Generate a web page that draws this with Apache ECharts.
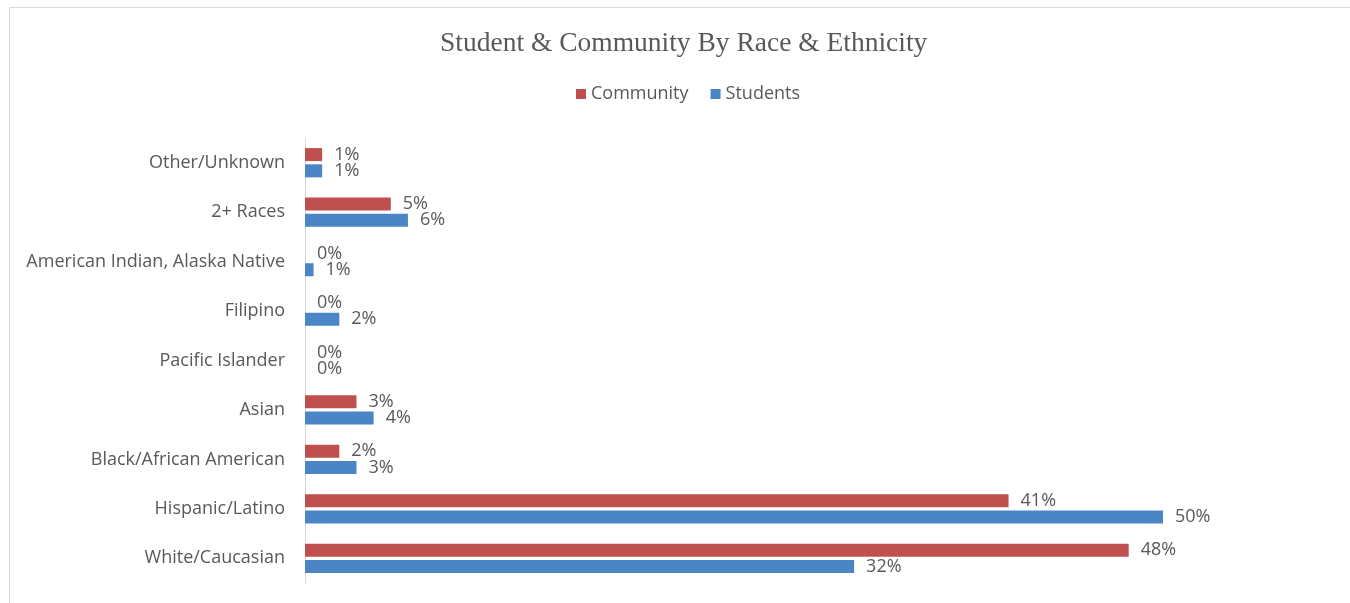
<!DOCTYPE html>
<html>
<head>
<meta charset="utf-8">
<script src="https://cdn.jsdelivr.net/npm/echarts@6/dist/echarts.min.js"></script>
<style>
  html, body { margin: 0; padding: 0; background: #fff; }
  #chart { width: 1350px; height: 603px; }
  .frame { position: absolute; left: 9px; top: 7px; right: 0; bottom: 0; border-top: 1px solid #d9d9d9; border-left: 1px solid #d9d9d9; pointer-events: none; }
</style>
</head>
<body>
<div id="chart"></div>
<div class="frame"></div>
<script>
// categories bottom to top
const categories = ['White/Caucasian', 'Hispanic/Latino', 'Black/African American', 'Asian', 'Pacific Islander', 'Filipino', 'American Indian, Alaska Native', '2+ Races', 'Other/Unknown']
const community = [48, 41, 2, 3, 0, 0, 0, 5, 1]
const students = [32, 50, 3, 4, 0, 2, 0.5, 6, 1]

const labelColor = '#595959'
const font = 'Open Sans'

const chart = echarts.init(document.getElementById('chart'))

function pctLabel(p) {
  return Math.round(p.value) + '%'
}

chart.setOption({
  animation: false,
  title: {
    text: 'Student & Community By Race & Ethnicity',
    left: 435,
    top: 25,
    textStyle: {
      fontFamily: 'Liberation Serif',
      fontWeight: 'normal',
      fontSize: 27.5,
      color: labelColor,
    },
  },
  legend: {
    top: 80,
    left: 571,
    itemWidth: 10,
    itemHeight: 10,
    itemGap: 22,
    icon: 'rect',
    textStyle: { fontFamily: font, fontSize: 18, color: labelColor },
    data: ['Community', 'Students'],
  },
  grid: {
    left: 305,
    top: 138,
    width: 17.16 * 60,
    bottom: 20,
    containLabel: false,
  },
  xAxis: {
    type: 'value',
    min: 0,
    max: 60,
    show: false,
  },
  yAxis: {
    type: 'category',
    data: categories,
    axisLine: { show: true, lineStyle: { color: '#d9d9d9', width: 1 } },
    axisTick: { show: false },
    axisLabel: { fontFamily: font, fontSize: 18, color: labelColor, margin: 20 },
  },
  series: [
    {
      name: 'Community',
      type: 'bar',
      data: community,
      barWidth: 13,
      barGap: '25%',
      itemStyle: { color: '#C0504D' },
      label: { show: true, position: 'right', distance: 12, formatter: pctLabel, fontFamily: font, fontSize: 18, color: labelColor },
    },
    {
      name: 'Students',
      type: 'bar',
      data: students,
      barWidth: 13,
      barGap: '25%',
      itemStyle: { color: '#4A86C5' },
      label: { show: true, position: 'right', distance: 12, formatter: pctLabel, fontFamily: font, fontSize: 18, color: labelColor },
    },
  ],
})
</script>
</body>
</html>
